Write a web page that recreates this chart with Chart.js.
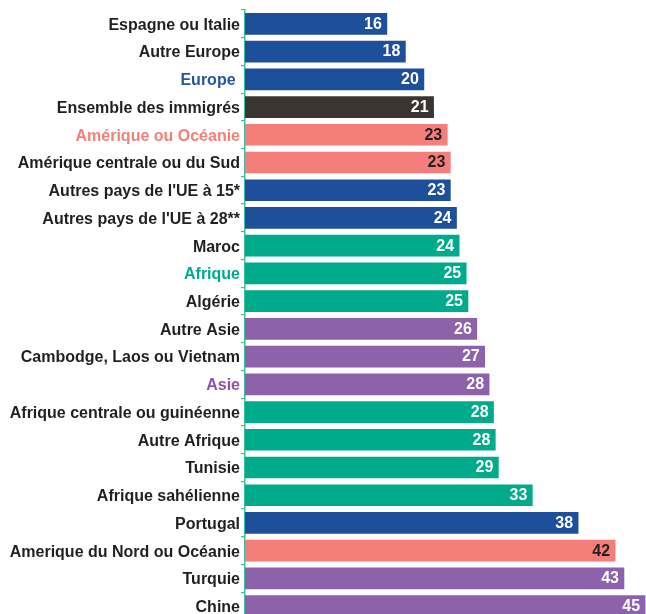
<!DOCTYPE html>
<html>
<head>
<meta charset="utf-8">
<script src="https://cdn.jsdelivr.net/npm/chart.js@4/dist/chart.umd.min.js"></script>
<style>
html,body{margin:0;padding:0;background:#fff;overflow:hidden;width:646px;height:614px;}
#wrap{position:absolute;left:0;top:0;width:646px;height:630px;}
</style>
</head>
<body>
<div id="wrap"><canvas id="c"></canvas></div>
<script>
const categories = [
  "Espagne ou Italie","Autre Europe","Europe ","Ensemble des immigrés","Amérique ou Océanie",
  "Amérique centrale ou du Sud","Autres pays de l'UE à 15*","Autres pays de l'UE à 28**","Maroc","Afrique",
  "Algérie","Autre Asie","Cambodge, Laos ou Vietnam","Asie","Afrique centrale ou guinéenne",
  "Autre Afrique","Tunisie","Afrique sahélienne","Portugal","Amerique du Nord ou Océanie",
  "Turquie","Chine"
];
const values = [16.1,18.2,20.3,21.4,22.95,23.3,23.3,24.0,24.3,25.1,25.3,26.3,27.2,27.7,28.2,28.4,28.75,32.6,37.8,42.0,43.0,45.4];
const valueLabels = ["16","18","20","21","23","23","23","24","24","25","25","26","27","28","28","28","29","33","38","42","43","45"];
const groups = ["eu","eu","eu","all","am","am","eu","eu","af","af","af","as","as","as","af","af","af","af","eu","am","as","as"];
const headerRows = ["Europe ","Amérique ou Océanie","Afrique","Asie"];

const groupColors = {eu:"#1e4f9b", all:"#3b3531", am:"#f47f7a", af:"#00ab8b", as:"#8c62aa"};
const headerColors = {eu:"#2456a3", am:"#f47f7a", af:"#00ab8b", as:"#8e52ad"};
const labelDark = "#231f20";
const axisColor = "#3fbf9f";

const barColors = groups.map(g => groupColors[g]);
const tickColors = categories.map((c,i) => headerRows.includes(c) ? headerColors[groups[i]] : labelDark);
const valueColors = groups.map(g => g === "am" ? labelDark : "#ffffff");

const valuePlugin = {
  id: "valuePlugin",
  afterDatasetsDraw(chart) {
    const ctx = chart.ctx;
    const meta = chart.getDatasetMeta(0);
    ctx.save();
    ctx.font = "bold 16px 'Liberation Sans', Arial, sans-serif";
    ctx.textAlign = "right";
    ctx.textBaseline = "middle";
    meta.data.forEach((bar, i) => {
      ctx.fillStyle = valueColors[i];
      ctx.fillText(valueLabels[i], bar.x - 5, bar.y + 0.5);
    });
    ctx.restore();
  }
};

new Chart(document.getElementById("c"), {
  type: "bar",
  data: {
    labels: categories,
    datasets: [{
      data: values,
      backgroundColor: barColors,
      borderWidth: 0,
      barThickness: 21
    }]
  },
  options: {
    indexAxis: "y",
    responsive: true,
    maintainAspectRatio: false,
    animation: false,
    layout: {padding: {top: 10, bottom: 10, left: 0, right: 0}},
    plugins: {legend: {display: false}, tooltip: {enabled: false}},
    scales: {
      x: {
        display: false,
        min: 0,
        max: 45.5
      },
      y: {
        offset: true,
        border: {display: true, color: axisColor, width: 1.5},
        grid: {display: true, drawOnChartArea: false, drawTicks: true, tickLength: 4, color: axisColor, lineWidth: 1.2, offset: true},
        ticks: {
          padding: 1,
          labelOffset: 1.5,
          autoSkip: false,
          color: tickColors,
          font: {family: "'Liberation Sans', Arial, sans-serif", size: 16, weight: "bold", lineHeight: 1}
        },
        afterFit(scale) { scale.width = 245; }
      }
    }
  },
  plugins: [valuePlugin]
});
</script>
</body>
</html>
